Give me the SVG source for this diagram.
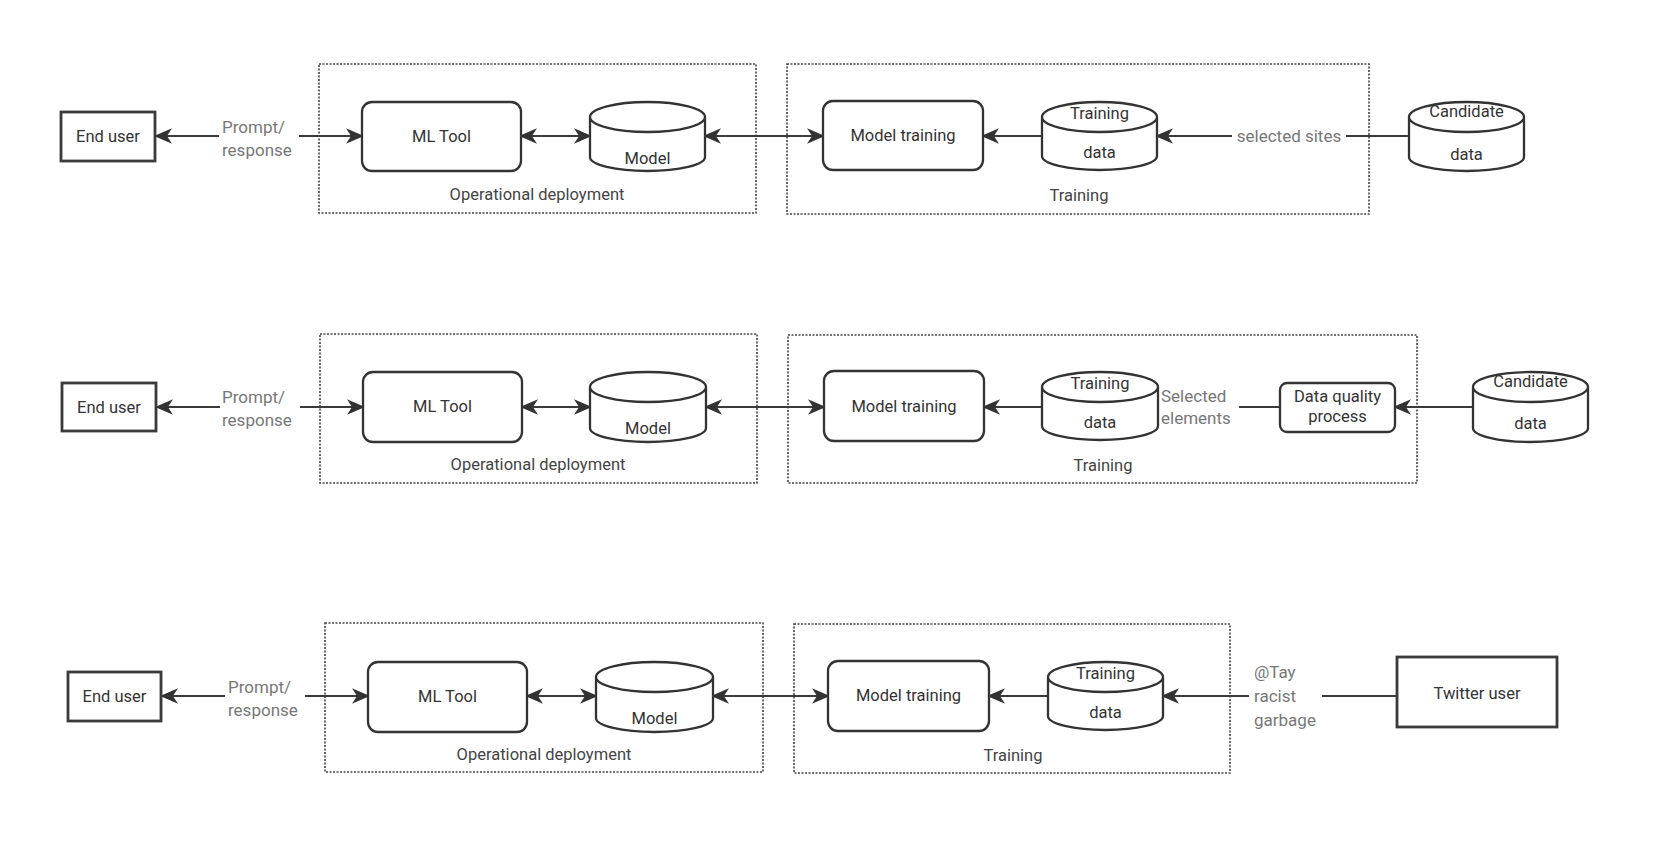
<svg xmlns="http://www.w3.org/2000/svg" width="1660" height="846" viewBox="0 0 1660 846">
<style>
  text { font-family: Roboto, "Liberation Sans", sans-serif; }
  .lbl { font-size: 16.5px; fill: #333; text-anchor: middle; }
  .glbl { font-size: 16.5px; fill: #444; text-anchor: middle; }
  .elbl { font-size: 17px; fill: #777; }
  .elblc { font-size: 17px; fill: #777; text-anchor: middle; }
  .box { fill: #fff; stroke: #3a3a3a; stroke-width: 2.8; }
  .rbox { fill: #fff; stroke: #333; stroke-width: 2.3; }
  .cyl { fill: #fff; stroke: #333; stroke-width: 2.3; }
  .grp { fill: none; stroke: #444; stroke-width: 1.6; stroke-dasharray: 2 1.5; }
  .edge { fill: none; stroke: #3a3a3a; stroke-width: 2.2; }
  .bg { fill: #fff; }
</style>
<defs>
  <marker id="arr" viewBox="0 0 18 16" markerWidth="18" markerHeight="16" refX="16" refY="8" orient="auto-start-reverse" markerUnits="userSpaceOnUse">
    <path d="M2,2 L16,8 L2,14 L6,8 Z" fill="#333" stroke="#333" stroke-width="1.5" stroke-linejoin="miter"/>
  </marker>
</defs>

<!-- Groups (dotted containers) -->
<g id="op-deployment-1"><rect class="grp" x="319" y="64" width="437" height="149"/><text class="glbl" x="537" y="200">Operational deployment</text></g>
<g id="training-1"><rect class="grp" x="787" y="64" width="582" height="150"/><text class="glbl" x="1079" y="201">Training</text></g>
<g id="op-deployment-2"><rect class="grp" x="320" y="334" width="437" height="149"/><text class="glbl" x="538" y="470">Operational deployment</text></g>
<g id="training-2"><rect class="grp" x="788" y="335" width="629" height="148"/><text class="glbl" x="1103" y="471">Training</text></g>
<g id="op-deployment-3"><rect class="grp" x="325" y="623" width="438" height="149"/><text class="glbl" x="544" y="760">Operational deployment</text></g>
<g id="training-3"><rect class="grp" x="794" y="624" width="436" height="149"/><text class="glbl" x="1013" y="761">Training</text></g>

<!-- Connectors -->
<g id="connectors">
  <!-- Row 1 -->
  <path class="edge" d="M362,136 L156,136" marker-start="url(#arr)" marker-end="url(#arr)"/>
  <path class="edge" d="M521,136 L590,136" marker-start="url(#arr)" marker-end="url(#arr)"/>
  <path class="edge" d="M705,136 L823,136" marker-start="url(#arr)" marker-end="url(#arr)"/>
  <path class="edge" d="M1042,136 L983,136" marker-end="url(#arr)"/>
  <path class="edge" d="M1409,136 L1157,136" marker-end="url(#arr)"/>
  <!-- Row 2 -->
  <path class="edge" d="M363,407 L157,407" marker-start="url(#arr)" marker-end="url(#arr)"/>
  <path class="edge" d="M522,407 L590,407" marker-start="url(#arr)" marker-end="url(#arr)"/>
  <path class="edge" d="M706,407 L824,407" marker-start="url(#arr)" marker-end="url(#arr)"/>
  <path class="edge" d="M1042,407 L984,407" marker-end="url(#arr)"/>
  <path class="edge" d="M1280,407 L1158,407" marker-end="url(#arr)"/>
  <path class="edge" d="M1473,407 L1395,407" marker-end="url(#arr)"/>
  <!-- Row 3 -->
  <path class="edge" d="M368,696 L162,696" marker-start="url(#arr)" marker-end="url(#arr)"/>
  <path class="edge" d="M527,696 L596,696" marker-start="url(#arr)" marker-end="url(#arr)"/>
  <path class="edge" d="M713,696 L828,696" marker-start="url(#arr)" marker-end="url(#arr)"/>
  <path class="edge" d="M1048,696 L989,696" marker-end="url(#arr)"/>
  <path class="edge" d="M1397,696 L1163,696" marker-end="url(#arr)"/>

  <!-- Edge labels -->
  <rect class="bg" x="219" y="116" width="80" height="44"/>
  <text class="elbl" x="222" y="133">Prompt/</text>
  <text class="elbl" x="222" y="156">response</text>
  <rect class="bg" x="1232" y="124" width="114" height="24"/>
  <text class="elblc" x="1289" y="142">selected sites</text>

  <rect class="bg" x="220" y="387" width="80" height="44"/>
  <text class="elbl" x="222" y="403">Prompt/</text>
  <text class="elbl" x="222" y="426">response</text>
  <rect class="bg" x="1159" y="386" width="80" height="44"/>
  <text class="elbl" x="1161" y="402">Selected</text>
  <text class="elbl" x="1161" y="424">elements</text>

  <rect class="bg" x="225" y="676" width="80" height="44"/>
  <text class="elbl" x="228" y="693">Prompt/</text>
  <text class="elbl" x="228" y="716">response</text>
  <rect class="bg" x="1249" y="660" width="73" height="72"/>
  <text class="elbl" x="1254" y="678">@Tay</text>
  <text class="elbl" x="1254" y="702">racist</text>
  <text class="elbl" x="1254" y="726">garbage</text>
</g>

<!-- Row 1 nodes -->
<g id="end-user-1"><rect class="box" x="61" y="112" width="94" height="49"/><text class="lbl" x="108" y="142">End user</text></g>
<g id="ml-tool-1"><rect class="rbox" x="362" y="102" width="159" height="69" rx="10"/><text class="lbl" x="441.5" y="142">ML Tool</text></g>
<g id="model-1"><path class="cyl" d="M590,117 A57.5,15 0 0 1 705,117 L705,157 A57.5,14 0 0 1 590,157 Z M590,117 A57.5,15 0 0 0 705,117"/><text class="lbl" x="647.5" y="164">Model</text></g>
<g id="model-training-1"><rect class="rbox" x="823" y="101" width="160" height="69" rx="10"/><text class="lbl" x="903" y="141">Model training</text></g>
<g id="training-data-1"><path class="cyl" d="M1042,117 A57.5,15 0 0 1 1157,117 L1157,156 A57.5,14 0 0 1 1042,156 Z M1042,117 A57.5,15 0 0 0 1157,117"/><text class="lbl" x="1099.5" y="119">Training</text><text class="lbl" x="1099.5" y="158">data</text></g>
<g id="candidate-data-1"><path class="cyl" d="M1409,117 A57.5,15 0 0 1 1524,117 L1524,157 A57.5,14 0 0 1 1409,157 Z M1409,117 A57.5,15 0 0 0 1524,117"/><text class="lbl" x="1466.5" y="117">Candidate</text><text class="lbl" x="1466.5" y="160">data</text></g>

<!-- Row 2 nodes -->
<g id="end-user-2"><rect class="box" x="62" y="383" width="94" height="48"/><text class="lbl" x="109" y="413">End user</text></g>
<g id="ml-tool-2"><rect class="rbox" x="363" y="372" width="159" height="70" rx="10"/><text class="lbl" x="442.5" y="412">ML Tool</text></g>
<g id="model-2"><path class="cyl" d="M590,387 A58,15 0 0 1 706,387 L706,428 A58,14 0 0 1 590,428 Z M590,387 A58,15 0 0 0 706,387"/><text class="lbl" x="648" y="434">Model</text></g>
<g id="model-training-2"><rect class="rbox" x="824" y="371" width="160" height="70" rx="10"/><text class="lbl" x="904" y="412">Model training</text></g>
<g id="training-data-2"><path class="cyl" d="M1042,387 A58,15 0 0 1 1158,387 L1158,426 A58,14 0 0 1 1042,426 Z M1042,387 A58,15 0 0 0 1158,387"/><text class="lbl" x="1100" y="389">Training</text><text class="lbl" x="1100" y="428">data</text></g>
<g id="data-quality-2"><rect class="rbox" x="1280" y="383" width="115" height="49" rx="7"/><text class="lbl" x="1337.5" y="402">Data quality</text><text class="lbl" x="1337.5" y="422">process</text></g>
<g id="candidate-data-2"><path class="cyl" d="M1473,387 A57.5,15 0 0 1 1588,387 L1588,428 A57.5,14 0 0 1 1473,428 Z M1473,387 A57.5,15 0 0 0 1588,387"/><text class="lbl" x="1530.5" y="387">Candidate</text><text class="lbl" x="1530.5" y="429">data</text></g>

<!-- Row 3 nodes -->
<g id="end-user-3"><rect class="box" x="68" y="672" width="93" height="49"/><text class="lbl" x="114.5" y="702">End user</text></g>
<g id="ml-tool-3"><rect class="rbox" x="368" y="662" width="159" height="70" rx="10"/><text class="lbl" x="447.5" y="702">ML Tool</text></g>
<g id="model-3"><path class="cyl" d="M596,677 A58.5,15 0 0 1 713,677 L713,718 A58.5,14 0 0 1 596,718 Z M596,677 A58.5,15 0 0 0 713,677"/><text class="lbl" x="654.5" y="724">Model</text></g>
<g id="model-training-3"><rect class="rbox" x="828" y="661" width="161" height="70" rx="10"/><text class="lbl" x="908.5" y="701">Model training</text></g>
<g id="training-data-3"><path class="cyl" d="M1048,677 A57.5,15 0 0 1 1163,677 L1163,716 A57.5,14 0 0 1 1048,716 Z M1048,677 A57.5,15 0 0 0 1163,677"/><text class="lbl" x="1105.5" y="679">Training</text><text class="lbl" x="1105.5" y="718">data</text></g>
<g id="twitter-user-3"><rect class="box" x="1397" y="657" width="160" height="70"/><text class="lbl" x="1477" y="699">Twitter user</text></g>
</svg>
